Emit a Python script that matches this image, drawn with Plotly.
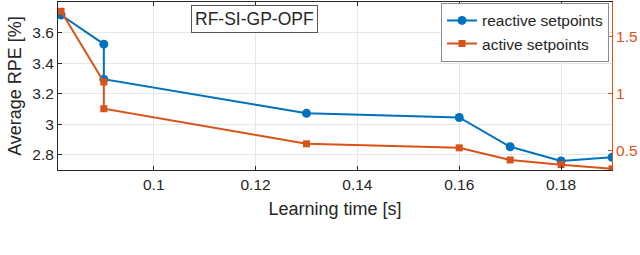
import plotly.graph_objects as go

learning_time = [0.0818, 0.0902, 0.0902, 0.13, 0.16, 0.17, 0.18, 0.19]
reactive_rpe = [3.715, 3.524, 3.295, 3.071, 3.044, 2.852, 2.759, 2.783]
active_rpe = [1.719, 1.100, 0.866, 0.559, 0.524, 0.418, 0.377, 0.340]

x_ticks = [0.1, 0.12, 0.14, 0.16, 0.18]
x_ticklabels = ["0.1", "0.12", "0.14", "0.16", "0.18"]
y_ticks = [2.8, 3.0, 3.2, 3.4, 3.6]
y_ticklabels = ["2.8", "3", "3.2", "3.4", "3.6"]
y2_ticks = [0.5, 1.0, 1.5]
y2_ticklabels = ["0.5", "1", "1.5"]

BLUE = "#0072BD"
ORANGE = "#D95319"
DARK = "#262626"
FONT = "Liberation Sans, Arial, sans-serif"

fig = go.Figure()
fig.add_trace(go.Scatter(
    x=learning_time, y=reactive_rpe, name="reactive setpoints",
    mode="lines+markers", line=dict(color=BLUE, width=2),
    marker=dict(symbol="circle", size=9, color=BLUE), yaxis="y"))
fig.add_trace(go.Scatter(
    x=learning_time, y=active_rpe, name="active setpoints",
    mode="lines+markers", line=dict(color=ORANGE, width=2),
    marker=dict(symbol="square", size=7, color=ORANGE), yaxis="y2"))

fig.update_layout(
    width=640, height=255,
    margin=dict(l=58, r=28, t=2, b=85),
    paper_bgcolor="white", plot_bgcolor="white",
    font=dict(family=FONT, size=15, color=DARK),
    hovermode=False,
    showlegend=True,
    legend=dict(x=0.9946, y=0.995, xanchor="right", yanchor="top",
                bordercolor="#8a8a8a", borderwidth=1, bgcolor="white",
                font=dict(size=15.5, color=DARK), tracegroupgap=0,
                itemwidth=30),
    xaxis=dict(range=[0.0812, 0.19], tickvals=x_ticks, ticktext=x_ticklabels,
               ticks="inside", ticklen=4, tickcolor=DARK, automargin=False,
               showline=True, linecolor=DARK, linewidth=1, mirror="ticks",
               showgrid=True, gridcolor="#e6e6e6", zeroline=False,
               tickfont=dict(size=15.5, color=DARK),
               title=dict(text="Learning time [s]", font=dict(size=18, color=DARK), standoff=10)),
    yaxis=dict(range=[2.70, 3.80], tickvals=y_ticks, ticktext=y_ticklabels,
               ticks="inside", ticklen=4, tickcolor=DARK, automargin=False,
               showline=True, linecolor=DARK, linewidth=1,
               showgrid=True, gridcolor="#e6e6e6", zeroline=False,
               tickfont=dict(size=15.5, color=DARK),
               title=dict(text="Average RPE [%]", font=dict(size=18, color=DARK), standoff=6)),
    yaxis2=dict(range=[0.33, 1.80], tickvals=y2_ticks, ticktext=y2_ticklabels,
                overlaying="y", side="right", automargin=False,
                ticks="inside", ticklen=4, tickcolor=ORANGE,
                showline=True, linecolor=ORANGE, linewidth=1,
                showgrid=False, zeroline=False,
                tickfont=dict(size=15.5, color=ORANGE)),
)

fig.add_annotation(
    text="RF-SI-GP-OPF", xref="paper", yref="paper", x=0.355, y=0.899,
    xanchor="center", yanchor="middle", showarrow=False,
    font=dict(family=FONT, size=17.5, color=DARK),
    bordercolor="#555555", borderwidth=1, borderpad=3, bgcolor="white")

fig.write_html("out.html", config={"displayModeBar": False},
               post_script="document.body.style.margin='0';document.body.style.overflow='hidden';")
